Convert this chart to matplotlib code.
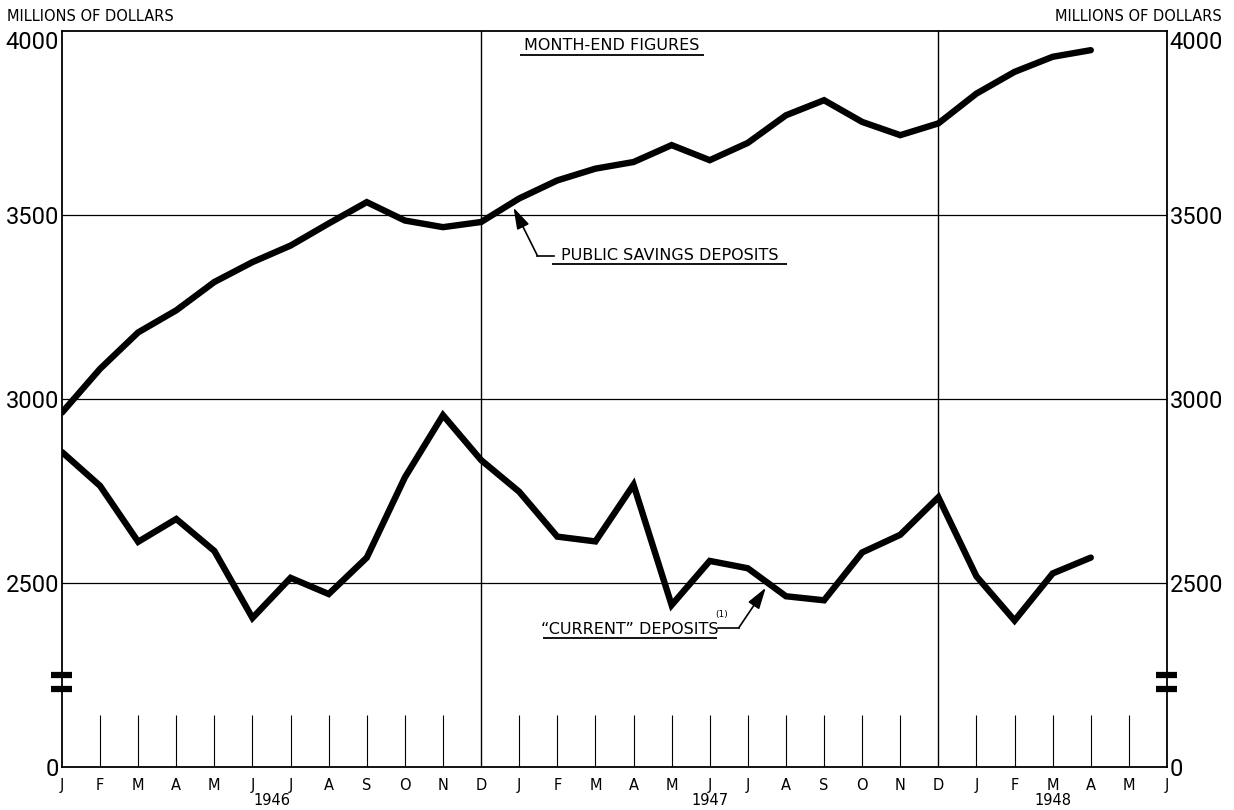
import numpy as np
import matplotlib
matplotlib.use("Agg")
import matplotlib.pyplot as plt
from matplotlib.transforms import blended_transform_factory


# month-end figures, Jan 1946 .. Apr 1948 (millions of dollars)
months = ["J", "F", "M", "A", "M", "J", "J", "A", "S", "O", "N", "D"] * 2 + ["J", "F", "M", "A", "M", "J"]
years = ["1946", "1947", "1948"]
year_pos = [5.5, 17, 26]

savings = [2963, 3082, 3181, 3241, 3318, 3372, 3417, 3477, 3535, 3485, 3467, 3481,
           3545, 3594, 3626, 3644, 3690, 3649, 3696, 3771, 3812, 3753, 3717, 3749,
           3830, 3889, 3930, 3948]
current = [2856, 2764, 2612, 2674, 2587, 2405, 2514, 2470, 2569, 2787, 2956, 2834,
           2748, 2626, 2613, 2767, 2440, 2560, 2540, 2464, 2453, 2583, 2631, 2733,
           2518, 2398, 2526, 2569]

ytick_vals = [2000, 2500, 3000, 3500, 4000]
ytick_labels = ["0", "2500", "3000", "3500", "4000"]
dec_idx = [11, 23]

FONT = "DejaVu Sans"
NUM_FONT = "Roboto"


def underline_text(ax, x, y, s, x0, x1, uy, size=11.5):
    ax.text(x, y, s, ha="center", va="center", fontsize=size, family=FONT)
    ax.plot([x0, x1], [uy, uy], color="black", lw=1.3, solid_capstyle="butt")


def main():
    fig = plt.figure(figsize=(12.34, 8.10), dpi=100)
    ax = fig.add_axes([0.0502, 0.0531, 0.8955, 0.9086])

    x = np.arange(len(months))
    n = len(months) - 1
    ax.set_xlim(0, n)
    ax.set_ylim(2000, 4000)

    # grid
    for v in ytick_vals[1:4]:
        ax.axhline(v, color="black", lw=0.9, zorder=1)
    for d in dec_idx:
        ax.axvline(d, color="black", lw=1.0, zorder=1)

    # short month ticks at the bottom
    tick_x = [i for i in range(1, n) if i not in dec_idx]
    ax.vlines(tick_x, 2000, 2142, color="black", lw=0.8, zorder=1)

    # the two series
    ax.plot(x[:len(savings)], savings, color="black", lw=4.6, solid_joinstyle="miter",
            solid_capstyle="round", zorder=3)
    ax.plot(x[:len(current)], current, color="black", lw=4.6, solid_joinstyle="miter",
            solid_capstyle="round", zorder=3)

    # axes
    for sp in ax.spines.values():
        sp.set_linewidth(1.3)
    ax.set_xticks(x)
    ax.set_xticklabels(months, fontsize=10.5, family=FONT)
    ax.tick_params(axis="x", length=0, pad=8)
    ax.set_yticks(ytick_vals)
    ax.set_yticklabels(ytick_labels, fontsize=17, family=NUM_FONT)
    ax.tick_params(axis="y", length=0, pad=2, labelleft=True, labelright=True)
    top_tick = ax.yaxis.get_major_ticks()[-1]
    top_tick.label1.set_va("top")
    top_tick.label2.set_va("top")

    for xp, yr in zip(year_pos, years):
        ax.text(xp, 1908, yr, ha="center", va="center", fontsize=10.5, family=FONT,
                clip_on=False)

    fig.text(0.006, 0.98, "MILLIONS OF DOLLARS", fontsize=10.5, family=FONT, va="center")
    fig.text(0.99, 0.98, "MILLIONS OF DOLLARS", fontsize=10.5, family=FONT, va="center",
             ha="right")

    # scale-break marks on both axes
    tr = blended_transform_factory(ax.transAxes, ax.transData)
    for ax_x in (0.0, 1.0):
        for yb in (2250, 2213):
            ax.plot([ax_x - 0.0095, ax_x + 0.0095], [yb, yb], color="black", lw=4.5,
                    transform=tr, clip_on=False, solid_capstyle="butt", zorder=5)

    # labels
    underline_text(ax, 14.42, 3962, "MONTH-END FIGURES", 12.03, 16.84, 3934)

    underline_text(ax, 15.95, 3389, "PUBLIC SAVINGS DEPOSITS", 12.85, 19.04, 3366)
    ax.plot([12.48, 12.9], [3389, 3389], color="black", lw=1.2)
    ax.annotate("", xy=(11.85, 3520), xytext=(12.48, 3389),
                arrowprops=dict(arrowstyle="-|>,head_length=1.3,head_width=0.4",
                                color="black", lw=1.2, shrinkA=0, shrinkB=0))

    underline_text(ax, 14.9, 2373, "\u201cCURRENT\u201d DEPOSITS", 12.63, 17.2, 2350)
    ax.text(17.32, 2415, "(1)", fontsize=6.5, family=FONT, ha="center", va="center")
    ax.plot([17.23, 17.76], [2378, 2378], color="black", lw=1.2)
    ax.annotate("", xy=(18.47, 2487), xytext=(17.76, 2378),
                arrowprops=dict(arrowstyle="-|>,head_length=1.3,head_width=0.4",
                                color="black", lw=1.2, shrinkA=0, shrinkB=0))

    fig.savefig("out.png", dpi=100)
    plt.close(fig)


if __name__ == "__main__":
    main()
